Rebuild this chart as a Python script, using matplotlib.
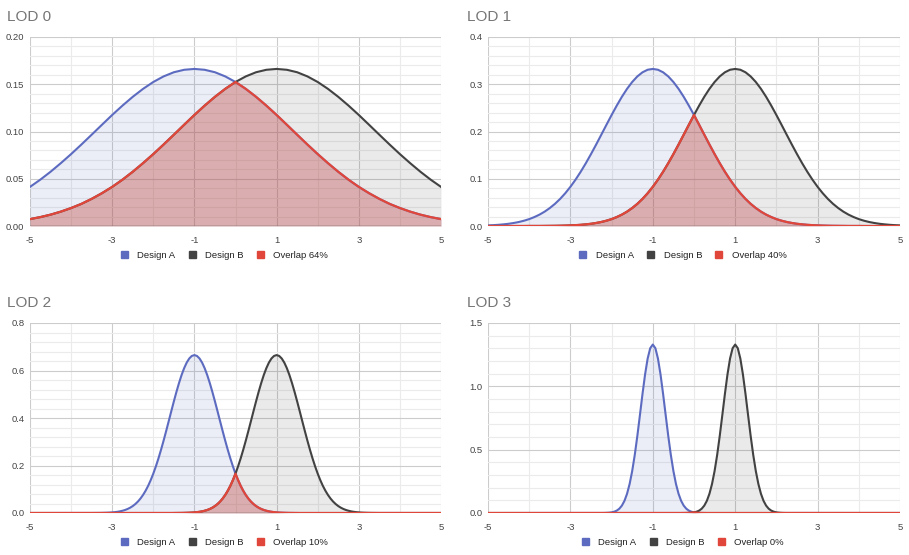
import numpy as np
import matplotlib
matplotlib.use('Agg')
import matplotlib.pyplot as plt
from matplotlib.patches import Patch
from matplotlib.ticker import MultipleLocator, FormatStrFormatter

plt.rcParams['font.family'] = ['Liberation Sans', 'DejaVu Sans']

# values (density curves, Design A / Design B)
lod0_x = np.linspace(-5, 5, 41)
lod0_a = [0.0414, 0.0490, 0.0574, 0.0665, 0.0761, 0.0862, 0.0966, 0.1071, 0.1175, 0.1274,
          0.1367, 0.1451, 0.1524, 0.1583, 0.1627, 0.1653, 0.1662, 0.1653, 0.1627, 0.1583,
          0.1524, 0.1451, 0.1367, 0.1274, 0.1175, 0.1071, 0.0966, 0.0862, 0.0761, 0.0665,
          0.0574, 0.0490, 0.0414, 0.0347, 0.0287, 0.0234, 0.0190, 0.0152, 0.0120, 0.0094, 0.0073]
lod0_b = [0.0073, 0.0094, 0.0120, 0.0152, 0.0190, 0.0234, 0.0287, 0.0347, 0.0414, 0.0490,
          0.0574, 0.0665, 0.0761, 0.0862, 0.0966, 0.1071, 0.1175, 0.1274, 0.1367, 0.1451,
          0.1524, 0.1583, 0.1627, 0.1653, 0.1662, 0.1653, 0.1627, 0.1583, 0.1524, 0.1451,
          0.1367, 0.1274, 0.1175, 0.1071, 0.0966, 0.0862, 0.0761, 0.0665, 0.0574, 0.0490, 0.0414]

lod1_x = np.linspace(-5, 5, 81)
lod1_a = [0.0013, 0.0018, 0.0025, 0.0035, 0.0047, 0.0064, 0.0085, 0.0112, 0.0146, 0.0189,
          0.0241, 0.0304, 0.0380, 0.0469, 0.0573, 0.0693, 0.0829, 0.0981, 0.1148, 0.1329,
          0.1522, 0.1724, 0.1932, 0.2142, 0.2349, 0.2548, 0.2735, 0.2903, 0.3048, 0.3166,
          0.3253, 0.3307, 0.3324, 0.3307, 0.3253, 0.3166, 0.3048, 0.2903, 0.2735, 0.2548,
          0.2349, 0.2142, 0.1932, 0.1724, 0.1522, 0.1329, 0.1148, 0.0981, 0.0829, 0.0693,
          0.0573, 0.0469, 0.0380, 0.0304, 0.0241, 0.0189, 0.0146, 0.0112, 0.0085, 0.0064,
          0.0047, 0.0035, 0.0025, 0.0018, 0.0013, 0.0009, 0.0006, 0.0004, 0.0003, 0.0002,
          0.0001, 0.0001, 0.0001, 0, 0, 0, 0, 0, 0, 0, 0]
lod1_b = [0, 0, 0, 0, 0, 0, 0, 0, 0.0001, 0.0001,
          0.0001, 0.0002, 0.0003, 0.0004, 0.0006, 0.0009, 0.0013, 0.0018, 0.0025, 0.0035,
          0.0047, 0.0064, 0.0085, 0.0112, 0.0146, 0.0189, 0.0241, 0.0304, 0.0380, 0.0469,
          0.0573, 0.0693, 0.0829, 0.0981, 0.1148, 0.1329, 0.1522, 0.1724, 0.1932, 0.2142,
          0.2349, 0.2548, 0.2735, 0.2903, 0.3048, 0.3166, 0.3253, 0.3307, 0.3324, 0.3307,
          0.3253, 0.3166, 0.3048, 0.2903, 0.2735, 0.2548, 0.2349, 0.2142, 0.1932, 0.1724,
          0.1522, 0.1329, 0.1148, 0.0981, 0.0829, 0.0693, 0.0573, 0.0469, 0.0380, 0.0304,
          0.0241, 0.0189, 0.0146, 0.0112, 0.0085, 0.0064, 0.0047, 0.0035, 0.0025, 0.0018, 0.0013]

lod2_x = np.concatenate([[-5], np.linspace(-3.5, 3.5, 113), [5]])
lod2_a = [0.0,
          0.0001, 0.0002, 0.0003, 0.0004, 0.0006, 0.0009, 0.0013, 0.0018, 0.0026, 0.0036,
          0.0050, 0.0069, 0.0095, 0.0127, 0.0170, 0.0224, 0.0292, 0.0377, 0.0481, 0.0608,
          0.0759, 0.0938, 0.1146, 0.1386, 0.1658, 0.1962, 0.2296, 0.2658, 0.3044, 0.3449,
          0.3865, 0.4285, 0.4699, 0.5097, 0.5469, 0.5806, 0.6096, 0.6332, 0.6506, 0.6613,
          0.6649,
          0.6613, 0.6506, 0.6332, 0.6096, 0.5806, 0.5469, 0.5097, 0.4699, 0.4285, 0.3865,
          0.3449, 0.3044, 0.2658, 0.2296, 0.1962, 0.1658, 0.1386, 0.1146, 0.0938, 0.0759,
          0.0608, 0.0481, 0.0377, 0.0292, 0.0224, 0.0170, 0.0127, 0.0095, 0.0069, 0.0050,
          0.0036, 0.0026, 0.0018, 0.0013, 0.0009, 0.0006, 0.0004, 0.0003, 0.0002, 0.0001,
          0, 0, 0, 0, 0, 0, 0, 0, 0, 0, 0, 0, 0, 0, 0, 0,
          0, 0, 0, 0, 0, 0, 0, 0, 0, 0, 0, 0, 0, 0, 0, 0,
          0.0]
lod2_b = [0.0,
          0, 0, 0, 0, 0, 0, 0, 0, 0, 0, 0, 0, 0, 0, 0, 0,
          0, 0, 0, 0, 0, 0, 0, 0, 0, 0, 0, 0, 0, 0, 0, 0,
          0.0001, 0.0002, 0.0003, 0.0004, 0.0006, 0.0009, 0.0013, 0.0018, 0.0026, 0.0036,
          0.0050, 0.0069, 0.0095, 0.0127, 0.0170, 0.0224, 0.0292, 0.0377, 0.0481, 0.0608,
          0.0759, 0.0938, 0.1146, 0.1386, 0.1658, 0.1962, 0.2296, 0.2658, 0.3044, 0.3449,
          0.3865, 0.4285, 0.4699, 0.5097, 0.5469, 0.5806, 0.6096, 0.6332, 0.6506, 0.6613,
          0.6649,
          0.6613, 0.6506, 0.6332, 0.6096, 0.5806, 0.5469, 0.5097, 0.4699, 0.4285, 0.3865,
          0.3449, 0.3044, 0.2658, 0.2296, 0.1962, 0.1658, 0.1386, 0.1146, 0.0938, 0.0759,
          0.0608, 0.0481, 0.0377, 0.0292, 0.0224, 0.0170, 0.0127, 0.0095, 0.0069, 0.0050,
          0.0036, 0.0026, 0.0018, 0.0013, 0.0009, 0.0006, 0.0004, 0.0003, 0.0002, 0.0001,
          0.0]

lod3_x = np.concatenate([[-5], np.linspace(-2.25, 2.25, 73), [5]])
lod3_a = [0.0,
          0.0002, 0.0005, 0.0012, 0.0025, 0.0051, 0.0101, 0.0189, 0.0340, 0.0584, 0.0963,
          0.1519, 0.2293, 0.3317, 0.4592, 0.6088, 0.7730, 0.9396, 1.0939, 1.2193, 1.3012,
          1.3298,
          1.3012, 1.2193, 1.0939, 0.9396, 0.7730, 0.6088, 0.4592, 0.3317, 0.2293, 0.1519,
          0.0963, 0.0584, 0.0340, 0.0189, 0.0101, 0.0051, 0.0025, 0.0012, 0.0005, 0.0002,
          0, 0, 0, 0, 0, 0, 0, 0, 0, 0, 0, 0, 0, 0, 0, 0,
          0, 0, 0, 0, 0, 0, 0, 0, 0, 0, 0, 0, 0, 0, 0, 0,
          0.0]
lod3_b = [0.0,
          0, 0, 0, 0, 0, 0, 0, 0, 0, 0, 0, 0, 0, 0, 0, 0,
          0, 0, 0, 0, 0, 0, 0, 0, 0, 0, 0, 0, 0, 0, 0, 0,
          0.0002, 0.0005, 0.0012, 0.0025, 0.0051, 0.0101, 0.0189, 0.0340, 0.0584, 0.0963,
          0.1519, 0.2293, 0.3317, 0.4592, 0.6088, 0.7730, 0.9396, 1.0939, 1.2193, 1.3012,
          1.3298,
          1.3012, 1.2193, 1.0939, 0.9396, 0.7730, 0.6088, 0.4592, 0.3317, 0.2293, 0.1519,
          0.0963, 0.0584, 0.0340, 0.0189, 0.0101, 0.0051, 0.0025, 0.0012, 0.0005, 0.0002,
          0.0]

titles = ['LOD 0', 'LOD 1', 'LOD 2', 'LOD 3']
overlap_labels = ['Overlap 64%', 'Overlap 40%', 'Overlap 10%', 'Overlap 0%']
y_max = [0.20, 0.4, 0.8, 1.5]
y_major = [0.05, 0.1, 0.2, 0.5]
y_minor = [0.01, 0.02, 0.04, 0.1]
y_fmt = ['%.2f', '%.1f', '%.1f', '%.1f']
x_ticks = [-5, -3, -1, 1, 3, 5]

panels = [(lod0_x, lod0_a, lod0_b), (lod1_x, lod1_a, lod1_b),
          (lod2_x, lod2_a, lod2_b), (lod3_x, lod3_a, lod3_b)]

BLUE = '#5c6bc0'
GREY = '#424242'
RED = '#e0473a'

W, H = 909, 555
fig = plt.figure(figsize=(W / 100, H / 100), dpi=100)
fig.patch.set_facecolor('white')

# axes boxes in pixels: left, right, top, bottom
boxes = [(30, 441, 37, 226), (488, 900, 37, 226),
         (30, 441, 323, 513), (488, 900, 323, 513)]
title_pos = [(7, 17), (467, 17), (7, 303), (467, 303)]

for i, (x, a, b) in enumerate(panels):
    l, r, t, bt = boxes[i]
    ax = fig.add_axes([l / W, 1 - bt / H, (r - l) / W, (bt - t) / H])
    a = np.array(a)
    b = np.array(b)
    ov = np.minimum(a, b)

    ax.fill_between(x, 0, a, color=BLUE, alpha=0.12, lw=0, zorder=2)
    ax.fill_between(x, 0, b, color=GREY, alpha=0.11, lw=0, zorder=2)
    ax.fill_between(x, 0, ov, color=RED, alpha=0.3, lw=0, zorder=3)
    ax.axhline(0, color='#555555', lw=1, zorder=3)
    ax.plot(x, a, color=BLUE, lw=1.5, zorder=4)
    ax.plot(x, b, color=GREY, lw=1.5, zorder=4)
    ax.plot(x, ov, color=RED, lw=1.6, zorder=5)

    ax.set_xlim(-5, 5)
    ax.set_ylim(0, y_max[i])
    ax.set_xticks(x_ticks)
    ax.set_xticklabels([str(v) for v in x_ticks])
    ax.xaxis.set_minor_locator(MultipleLocator(1))
    ax.yaxis.set_major_locator(MultipleLocator(y_major[i]))
    ax.yaxis.set_minor_locator(MultipleLocator(y_minor[i]))
    ax.yaxis.set_major_formatter(FormatStrFormatter(y_fmt[i]))
    ax.grid(which='major', color='#cccccc', lw=0.8, zorder=0)
    ax.grid(which='minor', color='#ebebeb', lw=0.8, zorder=0)
    ax.set_axisbelow(True)
    for s in ax.spines.values():
        s.set_visible(False)
    ax.tick_params(which='both', length=0, labelsize=6.8, colors='#444444')
    ax.tick_params(axis='x', pad=7)
    ax.tick_params(axis='y', pad=4)

    handles = [Patch(color=BLUE, label='Design A'),
               Patch(color=GREY, label='Design B'),
               Patch(color=RED, label=overlap_labels[i])]
    ax.legend(handles=handles, loc='center', bbox_to_anchor=(0.473, -0.155), ncol=3,
              frameon=False, fontsize=6.8, handlelength=0.75, handleheight=0.75,
              handletextpad=1.0, columnspacing=1.4, labelcolor='#222222')

    tx, ty = title_pos[i]
    fig.text(tx / W, 1 - ty / H, titles[i], fontsize=11, color='#757575', va='center', ha='left')

fig.savefig('out.png', dpi=100, facecolor='white')
